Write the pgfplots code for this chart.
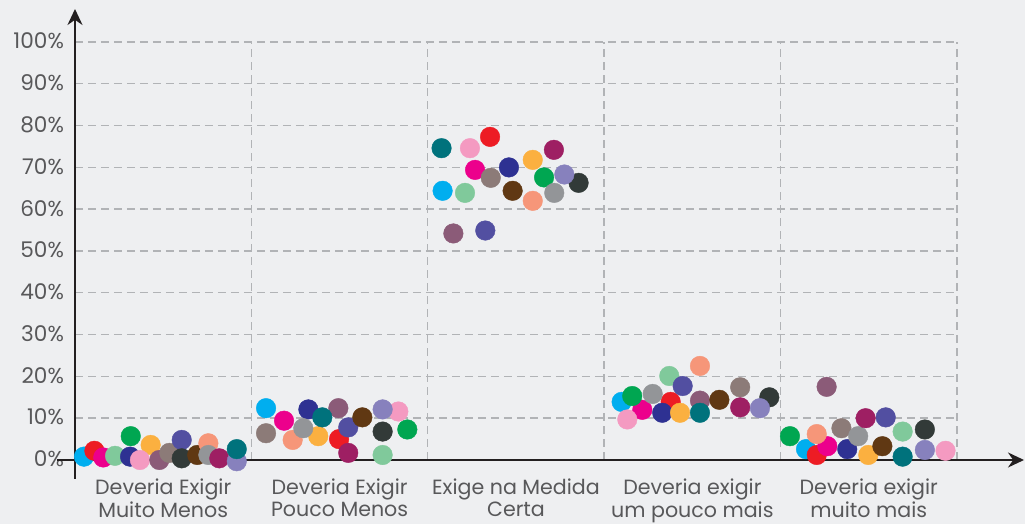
\documentclass[border=0pt]{standalone}
\usepackage{fontspec}
\setmainfont{Poppins}
\usepackage{pgfplots}
\pgfplotsset{compat=1.18}
\usetikzlibrary{arrows.meta}

\definecolor{bgc}{HTML}{EEEFF1}
\definecolor{txt}{HTML}{58585A}
\definecolor{gridc}{HTML}{B1B3B6}
\definecolor{axc}{HTML}{231F20}
\definecolor{cCyan}{HTML}{00AEEF}
\definecolor{cRed}{HTML}{ED1C24}
\definecolor{cMagenta}{HTML}{EC008C}
\definecolor{cMint}{HTML}{80C99B}
\definecolor{cGreen}{HTML}{00A651}
\definecolor{cNavy}{HTML}{2E3192}
\definecolor{cOrange}{HTML}{FBB040}
\definecolor{cPink}{HTML}{F49AC1}
\definecolor{cMauve}{HTML}{8B5B78}
\definecolor{cTaupe}{HTML}{8C7B78}
\definecolor{cPurple}{HTML}{524FA1}
\definecolor{cDark}{HTML}{323A38}
\definecolor{cBrown}{HTML}{603813}
\definecolor{cSalmon}{HTML}{F69679}
\definecolor{cGray}{HTML}{939598}
\definecolor{cCrimson}{HTML}{9E1F63}
\definecolor{cLilac}{HTML}{8781BD}
\definecolor{cTeal}{HTML}{00727C}

\pgfplotsset{dot/.style={only marks, mark=*, mark size=4.9pt, color=#1,
    mark options={solid, draw=#1, fill=#1, line width=0.2pt}}}

\begin{document}
\begin{tikzpicture}
\fill[bgc] (-37.5pt,-32pt) rectangle (475pt,230pt);
\begin{axis}[
    scale only axis,
    width=441pt, height=209pt,
    xmin=-0.5, xmax=4.5,
    ymin=0, ymax=100,
    clip=false,
    axis line style={draw=none},
    major tick length=0pt,
    xtick={0,1,2,3,4},
    xticklabels={{Deveria Exigir\\Muito Menos},{Deveria Exigir\\Pouco Menos},{Exige na Medida\\Certa},{Deveria exigir\\um pouco mais},{Deveria exigir\\muito mais}},
    xticklabel style={align=center, anchor=north, yshift=-6pt,
        font=\fontsize{10.3}{9.8}\selectfont, text=txt},
    extra x ticks={0.5,1.5,2.5,3.5,4.5},
    extra x tick labels={},
    extra x tick style={grid=major},
    ytick={0,10,...,100},
    yticklabels={0\%,10\%,20\%,30\%,40\%,50\%,60\%,70\%,80\%,90\%,100\%},
    yticklabel style={anchor=east, xshift=-2pt, yshift=0.5pt,
        font=\fontsize{10.8}{10}\selectfont, text=txt},
    ymajorgrids,
    major grid style={gridc, line width=0.7pt, dash pattern=on 4pt off 2.5pt},
]
\draw[axc, line width=1pt] ([xshift=-9pt]rel axis cs:0,0) -- ([xshift=32pt]rel axis cs:1,0);
\draw[axc, line width=1pt, -{Stealth[length=8pt,width=7.5pt]}] ([xshift=32pt]rel axis cs:1,0) -- ([xshift=33.5pt]rel axis cs:1,0);
\draw[axc, line width=1pt, -{Stealth[length=8pt,width=7.5pt]}] ([yshift=-9.5pt]rel axis cs:0,0) -- ([yshift=16.5pt]rel axis cs:0,1);

\addplot[dot=cCyan] coordinates {(-0.449,0.8) (0.583,12.4) (1.584,64.4) (2.599,13.9) (3.644,2.6)};
\addplot[dot=cRed] coordinates {(-0.39,2.2) (0.997,5.0) (1.853,77.3) (2.877,13.9) (3.705,1.2)};
\addplot[dot=cMagenta] coordinates {(-0.34,0.6) (0.685,9.4) (1.768,69.4) (2.716,12.0) (3.765,3.3)};
\addplot[dot=cMint] coordinates {(-0.273,1.0) (1.244,1.2) (1.711,63.9) (2.869,20.1) (4.192,6.8)};
\addplot[dot=cNavy] coordinates {(-0.188,0.8) (0.823,12.1) (1.96,70.0) (2.829,11.3) (3.878,2.6)};
\addplot[dot=cGreen] coordinates {(-0.184,5.7) (1.384,7.3) (2.159,67.6) (2.659,15.3) (3.553,5.7)};
\addplot[dot=cOrange] coordinates {(-0.071,3.6) (0.879,5.7) (2.095,71.8) (2.93,11.3) (3.997,1.2)};
\addplot[dot=cPink] coordinates {(-0.132,0.0) (1.333,11.6) (1.739,74.6) (2.631,9.7) (4.435,2.2)};
\addplot[dot=cMauve] coordinates {(-0.022,0.0) (0.993,12.4) (1.645,54.2) (3.043,14.2) (3.761,17.5)};
\addplot[dot=cTaupe] coordinates {(0.035,1.7) (0.583,6.4) (1.857,67.5) (3.271,17.4) (3.845,7.6)};
\addplot[dot=cPurple] coordinates {(0.105,4.8) (1.049,7.8) (1.826,54.9) (2.945,17.7) (4.096,10.2)};
\addplot[dot=cDark] coordinates {(0.105,0.4) (1.244,6.8) (2.355,66.3) (3.436,15.0) (4.318,7.3)};
\addplot[dot=cBrown] coordinates {(0.193,1.2) (1.129,10.2) (1.981,64.4) (3.153,14.4) (4.077,3.3)};
\addplot[dot=cSalmon] coordinates {(0.256,4.0) (0.734,4.8) (2.095,62.0) (3.043,22.5) (3.705,6.2)};
\addplot[dot=cGray] coordinates {(0.256,1.2) (0.794,7.6) (2.217,63.9) (2.775,15.8) (3.94,5.7)};
\addplot[dot=cCrimson] coordinates {(0.318,0.4) (1.049,1.7) (2.215,74.2) (3.271,12.6) (3.982,10.0)};
\addplot[dot=cLilac] coordinates {(0.417,-0.3) (1.244,12.1) (2.274,68.3) (3.383,12.4) (4.318,2.4)};
\addplot[dot=cTeal] coordinates {(0.417,2.6) (0.902,10.2) (1.578,74.6) (3.043,11.3) (4.192,0.8)};
\end{axis}
\pgfresetboundingbox
\path[use as bounding box] (-37.5pt,-32pt) rectangle (475pt,230pt);
\end{tikzpicture}
\end{document}
